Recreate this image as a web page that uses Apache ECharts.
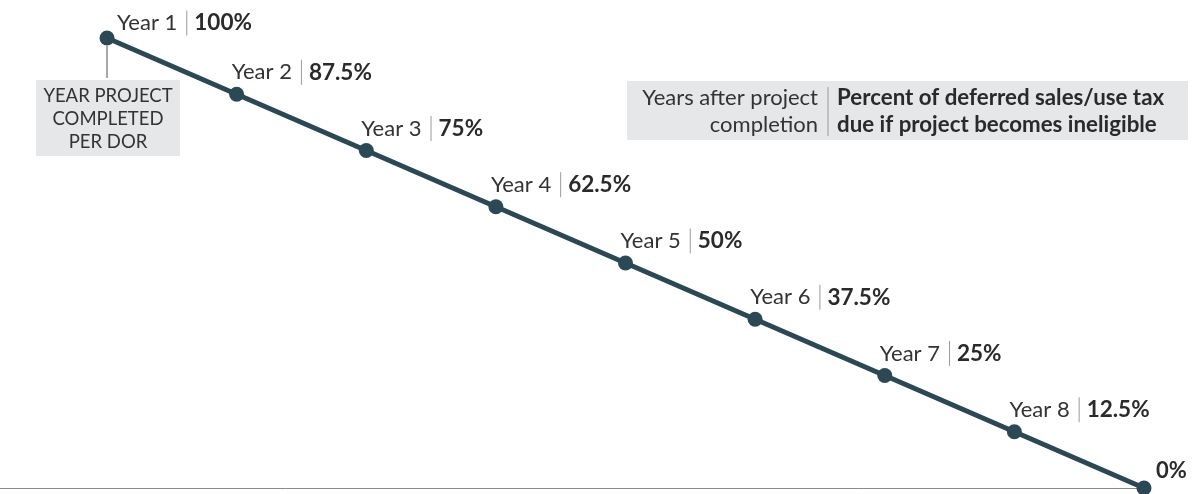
<!DOCTYPE html>
<html><head><meta charset="utf-8">
<script src="https://cdn.jsdelivr.net/npm/echarts@6/dist/echarts.min.js"></script>
<style>html,body{margin:0;padding:0;background:#fff}#c{width:1193px;height:494px}</style>
</head><body><div id="c"></div>
<script>
var yearLabels = ['Year 1','Year 2','Year 3','Year 4','Year 5','Year 6','Year 7','Year 8',''];
var percentValues = [100, 87.5, 75, 62.5, 50, 37.5, 25, 12.5, 0];
var percentText = ['100%','87.5%','75%','62.5%','50%','37.5%','25%','12.5%','0%'];
var noteText = ['YEAR PROJECT','COMPLETED','PER DOR'];
var legendLeft = ['Years after project','completion'];
var legendRight = ['Percent of deferred sales/use tax','due if project becomes ineligible'];

var FONT = 'Lato, "Open Sans", sans-serif';
var LINE = '#2b4855';
var data = percentValues.map(function(v,i){
  var pos = i === 0 ? [17.5,-7.5] : (i === percentValues.length-1 ? [19.5,-9.5] : [2.5,-14.5]);
  return {value:[i,v], label:{position:pos}};
});
var chart = echarts.init(document.getElementById('c'));
chart.setOption({
  animation:false,
  grid:{left:0,right:49,top:38,bottom:6},
  xAxis:{type:'value',min:-0.8256,max:8,axisLine:{show:true,lineStyle:{color:'#8a8a8a',width:1}},
    axisTick:{show:false},axisLabel:{show:false},splitLine:{show:false}},
  yAxis:{type:'value',min:0,max:100,show:false},
  series:[{
    type:'line',data:data,clip:false,z:5,
    lineStyle:{color:LINE,width:5},
    itemStyle:{color:LINE},
    symbol:'circle',symbolSize:15,showAllSymbol:true,
    label:{show:true,verticalAlign:'middle',align:'left',
      formatter:function(p){
        var i=p.dataIndex;
        if(!yearLabels[i]) return '{o|'+percentText[i]+'}';
        return '{y|'+yearLabels[i]+'}{s|}{v|'+percentText[i]+'}';
      },
      rich:{
        y:{fontFamily:FONT,fontSize:22,color:'#333',padding:[0,9,0,0]},
        s:{width:1,height:25,backgroundColor:'#9a9a9a'},
        v:{fontFamily:FONT,fontSize:22.5,fontWeight:'bold',color:'#2a2a2a',padding:[0,0,0,7]},
        o:{fontFamily:FONT,fontSize:22,fontWeight:'bold',color:'#2a2a2a'}
      }
    }
  }]
});
var p0 = chart.convertToPixel({gridIndex:0},[0,percentValues[0]]);
chart.setOption({graphic:[
  {type:'line',shape:{x1:p0[0],y1:p0[1]+8,x2:p0[0],y2:p0[1]+40},style:{stroke:'#8a8a8a',lineWidth:1.5}},
  {type:'rect',shape:{x:p0[0]-71,y:p0[1]+42,width:144,height:76},style:{fill:'#e6e7e8'}},
  {type:'text',x:p0[0]+1,y:p0[1]+81,style:{text:noteText.join('\n'),fontFamily:FONT,fontSize:18.5,lineHeight:23,fill:'#333',align:'center',verticalAlign:'middle'}},
  {type:'rect',shape:{x:627,y:81,width:561,height:59},style:{fill:'#e6e7e8'}},
  {type:'text',x:818,y:111,style:{text:legendLeft.join('\n'),fontFamily:FONT,fontSize:22,lineHeight:27,fill:'#333',align:'right',verticalAlign:'middle'}},
  {type:'line',shape:{x1:828,y1:87,x2:828,y2:136},style:{stroke:'#9a9a9a',lineWidth:1}},
  {type:'text',x:837,y:111,style:{text:legendRight.join('\n'),fontFamily:FONT,fontSize:22.3,fontWeight:'bold',lineHeight:27,fill:'#2a2a2a',align:'left',verticalAlign:'middle'}}
]});
</script></body></html>
